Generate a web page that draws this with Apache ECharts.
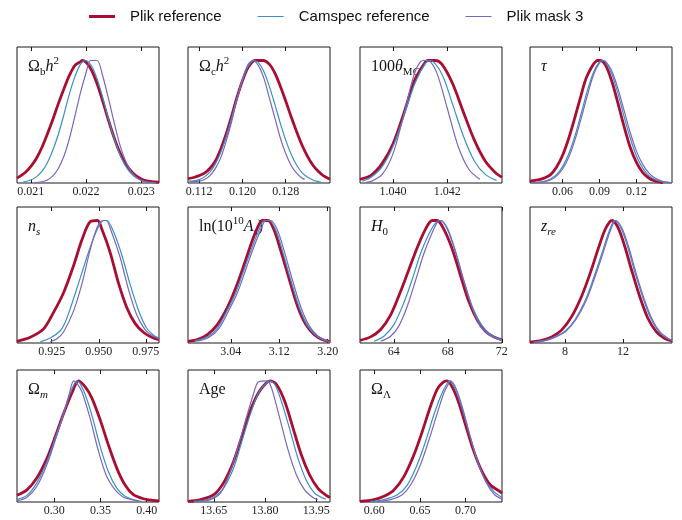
<!DOCTYPE html>
<html>
<head>
<meta charset="utf-8">
<script src="https://cdn.jsdelivr.net/npm/echarts@6/dist/echarts.min.js"></script>
<style>
  html, body { margin: 0; padding: 0; background: #fff; }
  #chart { width: 682px; height: 520px; }
</style>
</head>
<body>
<div id="chart"></div>
<script>
// ---- Marginalised 1D posteriors (normalised to peak = 1) ----

// Omega_b h^2
const ombh2Range = [0.02075, 0.02332];
const ombh2Ticks = ['0.021', '0.022', '0.023'];
const ombh2Plik = [[0.02075,0.04],[0.0209,0.086],[0.0210,0.135],[0.0211,0.20],[0.0212,0.29],[0.0213,0.40],[0.0214,0.52],[0.0215,0.65],[0.0216,0.77],[0.0217,0.88],[0.0218,0.96],[0.0219,0.99],[0.02193,1.0],[0.0220,0.985],[0.0221,0.92],[0.0222,0.81],[0.0223,0.67],[0.0224,0.52],[0.0225,0.38],[0.0226,0.26],[0.0227,0.17],[0.0228,0.105],[0.0229,0.06],[0.0230,0.033],[0.0231,0.017],[0.02332,0.006]];
const ombh2Camspec = [[0.02086,0.008],[0.0210,0.025],[0.0211,0.05],[0.0212,0.095],[0.0213,0.166],[0.0214,0.27],[0.0215,0.40],[0.0216,0.56],[0.0217,0.73],[0.0218,0.87],[0.0219,0.97],[0.02199,1.0],[0.0221,0.955],[0.0222,0.85],[0.0223,0.70],[0.0224,0.53],[0.0225,0.375],[0.0226,0.245],[0.0227,0.15],[0.0228,0.084],[0.0229,0.044],[0.0230,0.021],[0.0231,0.01],[0.02325,0.003]];
const ombh2Mask3 = [[0.02107,0.003],[0.0212,0.01],[0.0213,0.025],[0.0214,0.058],[0.0215,0.12],[0.0216,0.22],[0.0217,0.365],[0.0218,0.55],[0.0219,0.74],[0.0220,0.90],[0.02208,1.0],[0.0222,1.0],[0.0223,0.875],[0.0224,0.70],[0.0225,0.51],[0.0226,0.33],[0.0227,0.196],[0.0228,0.104],[0.0229,0.05],[0.0230,0.021],[0.0231,0.008],[0.02327,0.001]];

// Omega_c h^2
const omch2Range = [0.10994, 0.13618];
const omch2Ticks = ['0.112', '0.120', '0.128'];
const omch2Plik = [[0.10994,0.035],[0.111,0.045],[0.112,0.06],[0.113,0.08],[0.114,0.12],[0.115,0.18],[0.116,0.278],[0.117,0.40],[0.118,0.546],[0.119,0.70],[0.120,0.835],[0.121,0.94],[0.122,0.995],[0.1224,1.0],[0.1238,1.0],[0.125,0.968],[0.126,0.896],[0.127,0.79],[0.128,0.67],[0.129,0.54],[0.130,0.42],[0.131,0.31],[0.132,0.22],[0.133,0.147],[0.134,0.095],[0.135,0.058],[0.13618,0.031]];
const omch2Camspec = [[0.1101,0.015],[0.111,0.018],[0.112,0.028],[0.113,0.05],[0.114,0.09],[0.115,0.156],[0.116,0.25],[0.117,0.38],[0.118,0.53],[0.119,0.69],[0.120,0.84],[0.121,0.95],[0.1222,1.0],[0.123,0.98],[0.124,0.906],[0.125,0.785],[0.126,0.64],[0.127,0.487],[0.128,0.35],[0.129,0.234],[0.130,0.147],[0.131,0.085],[0.132,0.048],[0.133,0.025],[0.134,0.012],[0.1345,0.008]];
const omch2Mask3 = [[0.1103,0.01],[0.112,0.015],[0.113,0.029],[0.114,0.06],[0.115,0.119],[0.116,0.207],[0.117,0.342],[0.118,0.50],[0.119,0.687],[0.120,0.845],[0.121,0.964],[0.1219,1.0],[0.123,0.954],[0.124,0.85],[0.125,0.69],[0.126,0.53],[0.127,0.367],[0.128,0.24],[0.129,0.143],[0.130,0.08],[0.131,0.041],[0.1315,0.03]];

// 100 theta_MC
const thetaRange = [1.03878, 1.04402];
const thetaTicks = ['1.040', '1.042'];
const thetaPlik = [[1.03878,0.03],[1.0392,0.065],[1.0396,0.16],[1.0400,0.32],[1.0404,0.57],[1.0408,0.84],[1.0412,0.99],[1.0413,1.0],[1.04155,1.0],[1.0418,0.97],[1.0422,0.81],[1.0426,0.576],[1.0430,0.35],[1.0434,0.18],[1.0438,0.08],[1.04402,0.047]];
const thetaCamspec = [[1.03887,0.015],[1.0392,0.049],[1.0396,0.134],[1.0400,0.30],[1.0404,0.547],[1.0408,0.81],[1.0412,0.98],[1.04137,1.0],[1.0418,0.89],[1.0422,0.64],[1.0426,0.38],[1.0430,0.18],[1.0434,0.07],[1.04382,0.02]];
const thetaMask3 = [[1.0390,0.006],[1.0392,0.014],[1.0396,0.07],[1.0400,0.24],[1.0404,0.56],[1.0408,0.90],[1.0411,1.0],[1.04128,1.0],[1.0416,0.907],[1.0420,0.61],[1.0424,0.30],[1.0428,0.11],[1.0432,0.03]];

// tau
const tauRange = [0.0335, 0.1489];
const tauTicks = ['0.06', '0.09', '0.12'];
const tauPlik = [[0.0335,0.015],[0.04,0.025],[0.045,0.04],[0.05,0.066],[0.055,0.128],[0.06,0.226],[0.065,0.365],[0.07,0.535],[0.075,0.716],[0.08,0.876],[0.0885,1.0],[0.0905,1.0],[0.095,0.96],[0.10,0.83],[0.105,0.65],[0.11,0.46],[0.115,0.29],[0.12,0.168],[0.125,0.087],[0.13,0.041],[0.135,0.017],[0.14,0.006],[0.1416,0.003]];
const tauCamspec = [[0.035,0.004],[0.04,0.006],[0.045,0.013],[0.05,0.032],[0.055,0.068],[0.06,0.134],[0.065,0.238],[0.07,0.384],[0.075,0.563],[0.08,0.75],[0.085,0.90],[0.09,0.99],[0.0922,1.0],[0.095,0.985],[0.10,0.89],[0.105,0.73],[0.11,0.54],[0.115,0.365],[0.12,0.22],[0.125,0.124],[0.13,0.062],[0.135,0.029],[0.14,0.012],[0.145,0.0045],[0.1489,0.002]];
const tauMask3 = [[0.036,0.0015],[0.04,0.004],[0.045,0.01],[0.05,0.025],[0.055,0.056],[0.06,0.114],[0.065,0.21],[0.07,0.35],[0.075,0.524],[0.08,0.71],[0.085,0.88],[0.09,0.98],[0.093,1.0],[0.095,0.993],[0.10,0.914],[0.105,0.77],[0.11,0.59],[0.115,0.41],[0.12,0.26],[0.125,0.154],[0.13,0.082],[0.135,0.04],[0.14,0.018],[0.145,0.007],[0.1489,0.003]];

// n_s
const nsRange = [0.90654, 0.98198];
const nsTicks = ['0.925', '0.950', '0.975'];
const nsPlik = [[0.90654,0.014],[0.9136,0.047],[0.92067,0.115],[0.92597,0.25],[0.93127,0.41],[0.93657,0.63],[0.94099,0.84],[0.94541,0.99],[0.9493,1.0],[0.95159,0.93],[0.95601,0.74],[0.96042,0.49],[0.96484,0.29],[0.96926,0.16],[0.97367,0.088],[0.97809,0.047],[0.98198,0.027]];
const nsCamspec = [[0.9189,0.01],[0.9242,0.04],[0.92951,0.10],[0.93216,0.17],[0.93481,0.28],[0.94011,0.53],[0.94541,0.78],[0.94982,0.95],[0.9530,1.0],[0.95424,1.0],[0.95777,0.91],[0.96219,0.72],[0.96661,0.48],[0.97102,0.27],[0.97544,0.12],[0.97986,0.055],[0.98198,0.04]];
const nsMask3 = [[0.9242,0.01],[0.92774,0.035],[0.93127,0.09],[0.93657,0.26],[0.94099,0.48],[0.94541,0.76],[0.9493,0.95],[0.95212,1.0],[0.95389,1.0],[0.95689,0.90],[0.96131,0.70],[0.96572,0.44],[0.97014,0.23],[0.97456,0.11],[0.97898,0.055],[0.98198,0.036]];

// ln(10^10 A_s)
const logARange = [2.9694, 3.2039];
const logATicks = ['3.04', '3.12', '3.20'];
const logAPlik = [[2.9694,0.014],[2.9848,0.027],[3.0014,0.068],[3.0179,0.15],[3.0345,0.29],[3.0483,0.45],[3.0621,0.64],[3.0759,0.84],[3.0869,0.97],[3.0924,1.0],[3.1018,1.0],[3.1117,0.92],[3.1228,0.75],[3.1366,0.52],[3.1503,0.30],[3.1641,0.15],[3.1779,0.068],[3.1917,0.027],[3.2039,0.014]];
const logACamspec = [[2.9793,0.014],[3.0014,0.05],[3.0179,0.12],[3.0345,0.27],[3.0483,0.41],[3.0621,0.60],[3.0759,0.79],[3.0897,0.96],[3.0952,1.0],[3.1034,1.0],[3.1145,0.92],[3.1255,0.75],[3.1393,0.51],[3.1531,0.29],[3.1669,0.14],[3.1807,0.06],[3.1945,0.022],[3.2039,0.01]];
const logAMask3 = [[2.9848,0.014],[3.0041,0.047],[3.0207,0.12],[3.0372,0.27],[3.0510,0.41],[3.0648,0.60],[3.0786,0.79],[3.0924,0.96],[3.0979,1.0],[3.1062,1.0],[3.1172,0.92],[3.1283,0.75],[3.1421,0.51],[3.1559,0.29],[3.1697,0.14],[3.1834,0.06],[3.1972,0.022],[3.2039,0.01]];

// H_0
const h0Range = [61.5, 72.01];
const h0Ticks = ['64', '68', '72'];
const h0Plik = [[61.50,0.022],[62.29,0.05],[63.03,0.11],[63.77,0.23],[64.50,0.42],[65.12,0.60],[65.74,0.78],[66.35,0.93],[66.84,1.0],[67.21,1.0],[67.70,0.93],[68.32,0.77],[68.94,0.55],[69.55,0.34],[70.17,0.19],[70.78,0.096],[71.40,0.05],[72.01,0.027]];
const h0Camspec = [[62.54,0.014],[63.27,0.055],[64.01,0.15],[64.75,0.33],[65.37,0.52],[65.98,0.73],[66.60,0.89],[67.09,0.98],[67.41,1.0],[67.95,0.93],[68.57,0.74],[69.18,0.51],[69.80,0.30],[70.41,0.16],[71.03,0.08],[71.64,0.04],[72.01,0.027]];
const h0Mask3 = [[63.03,0.014],[63.77,0.055],[64.38,0.14],[65.00,0.30],[65.61,0.51],[66.23,0.73],[66.84,0.90],[67.26,0.99],[67.51,1.0],[68.00,0.93],[68.57,0.75],[69.18,0.51],[69.80,0.29],[70.41,0.14],[71.03,0.07],[71.64,0.033],[72.01,0.02]];

// z_re
const zreRange = [5.6, 15.36];
const zreTicks = ['8', '12'];
const zrePlik = [[5.60,0.008],[6.40,0.022],[7.09,0.05],[7.77,0.105],[8.46,0.215],[9.14,0.38],[9.71,0.56],[10.29,0.77],[10.74,0.92],[11.09,0.99],[11.25,1.0],[11.66,0.94],[12.11,0.79],[12.57,0.60],[13.14,0.38],[13.71,0.20],[14.29,0.09],[14.86,0.036],[15.36,0.017]];
const zreCamspec = [[5.83,0.008],[6.63,0.022],[7.31,0.05],[8.00,0.096],[8.69,0.19],[9.37,0.34],[9.94,0.52],[10.51,0.72],[10.97,0.89],[11.31,0.99],[11.43,1.0],[11.84,0.94],[12.30,0.79],[12.75,0.60],[13.33,0.38],[13.90,0.20],[14.47,0.09],[15.04,0.036],[15.36,0.022]];
const zreMask3 = [[5.90,0.008],[6.70,0.022],[7.38,0.05],[8.07,0.096],[8.75,0.19],[9.44,0.34],[10.01,0.52],[10.58,0.72],[11.04,0.89],[11.38,0.99],[11.50,1.0],[11.91,0.94],[12.37,0.79],[12.82,0.60],[13.39,0.38],[13.97,0.20],[14.54,0.09],[15.11,0.036],[15.36,0.024]];

// Omega_m
const omegamRange = [0.2597, 0.4133];
const omegamTicks = ['0.30', '0.35', '0.40'];
const omegamPlik = [[0.2597,0.055],[0.2705,0.10],[0.2813,0.20],[0.2921,0.36],[0.3011,0.54],[0.3101,0.73],[0.3191,0.90],[0.3263,1.0],[0.3335,0.95],[0.3406,0.86],[0.3496,0.68],[0.3586,0.47],[0.3676,0.28],[0.3766,0.14],[0.3856,0.06],[0.3964,0.027],[0.4072,0.014],[0.4133,0.01]];
const omegamCamspec = [[0.2597,0.02],[0.2705,0.055],[0.2813,0.16],[0.2921,0.335],[0.3011,0.53],[0.3101,0.73],[0.3173,0.90],[0.3227,0.99],[0.3245,1.0],[0.3317,0.92],[0.3406,0.72],[0.3496,0.46],[0.3586,0.25],[0.3676,0.115],[0.3766,0.047],[0.3856,0.019],[0.3946,0.005]];
const omegamMask3 = [[0.2597,0.01],[0.2705,0.04],[0.2813,0.13],[0.2921,0.31],[0.3011,0.51],[0.3101,0.73],[0.3165,0.90],[0.3209,1.0],[0.3245,0.98],[0.3299,0.91],[0.3388,0.69],[0.3478,0.42],[0.3568,0.21],[0.3658,0.10],[0.3748,0.04],[0.3838,0.02],[0.3910,0.01]];

// Age
const ageRange = [13.5745, 13.9906];
const ageTicks = ['13.65', '13.80', '13.95'];
const agePlik = [[13.5745,0.005],[13.6113,0.02],[13.65,0.06],[13.679,0.16],[13.7081,0.335],[13.7323,0.54],[13.7565,0.75],[13.7806,0.90],[13.8029,0.98],[13.8145,1.0],[13.8339,0.97],[13.8581,0.83],[13.8823,0.61],[13.9065,0.39],[13.9306,0.225],[13.9548,0.115],[13.979,0.055],[13.9906,0.038]];
const ageCamspec = [[13.5919,0.005],[13.621,0.014],[13.65,0.04],[13.679,0.115],[13.7081,0.28],[13.7323,0.50],[13.7565,0.72],[13.7806,0.90],[13.80,0.97],[13.8126,1.0],[13.829,0.97],[13.8484,0.83],[13.8726,0.60],[13.8968,0.36],[13.921,0.18],[13.9452,0.074],[13.9694,0.033],[13.979,0.025]];
const ageMask3 = [[13.6113,0.005],[13.6403,0.02],[13.6694,0.074],[13.6984,0.25],[13.7226,0.47],[13.7468,0.71],[13.7661,0.89],[13.7806,0.99],[13.8068,1.0],[13.8194,0.94],[13.8435,0.69],[13.8677,0.43],[13.8919,0.225],[13.9161,0.10],[13.9403,0.038],[13.9548,0.02]];

// Omega_Lambda
const omegalRange = [0.5845, 0.7398];
const omegalTicks = ['0.60', '0.65', '0.70'];
const omegalPlik = [[0.5845,0.005],[0.5998,0.02],[0.6107,0.047],[0.6216,0.10],[0.6325,0.21],[0.6435,0.39],[0.6525,0.58],[0.6616,0.79],[0.6689,0.93],[0.6755,0.99],[0.6798,1.0],[0.6853,0.95],[0.6925,0.82],[0.6998,0.64],[0.7089,0.42],[0.718,0.25],[0.7271,0.14],[0.7362,0.093],[0.7398,0.074]];
const omegalCamspec = [[0.5962,0.005],[0.6107,0.02],[0.6253,0.06],[0.6362,0.14],[0.6471,0.31],[0.6562,0.50],[0.6653,0.72],[0.6725,0.87],[0.6798,0.98],[0.6824,1.0],[0.6889,0.93],[0.6962,0.77],[0.7035,0.58],[0.7125,0.35],[0.7216,0.18],[0.7307,0.088],[0.7398,0.038]];
const omegalMask3 = [[0.6035,0.005],[0.618,0.02],[0.6307,0.06],[0.6398,0.14],[0.6507,0.31],[0.6598,0.51],[0.6689,0.73],[0.6762,0.90],[0.6816,0.98],[0.6835,1.0],[0.69,0.93],[0.6973,0.76],[0.7045,0.555],[0.7136,0.32],[0.7227,0.157],[0.7318,0.06],[0.7398,0.025]];

// Parameter labels (rich-text markup: r = roman, i = italic, sub/sup = scripts)
const paramLabels = [
  '{r|Ω}{sub|b}{i|h}{sup|2}',
  '{r|Ω}{sub|c}{i|h}{sup|2}',
  '{r|100}{i|θ}{sub|MC}',
  '{i|τ}',
  '{i|n}{subi|s}',
  '{r|ln(10}{sup|10}{i|A}{subi|s}{r|)}',
  '{i|H}{sub|0}',
  '{i|z}{subi|re}',
  '{r|Ω}{subi|m}',
  '{r|Age}',
  '{r|Ω}{sub|Λ}'
];

const seriesNames = ['Plik reference', 'Camspec reference', 'Plik mask 3'];

const panels = [
  { range: ombh2Range,  ticks: ombh2Ticks,  curves: [ombh2Plik,  ombh2Camspec,  ombh2Mask3] },
  { range: omch2Range,  ticks: omch2Ticks,  curves: [omch2Plik,  omch2Camspec,  omch2Mask3] },
  { range: thetaRange,  ticks: thetaTicks,  curves: [thetaPlik,  thetaCamspec,  thetaMask3] },
  { range: tauRange,    ticks: tauTicks,    curves: [tauPlik,    tauCamspec,    tauMask3] },
  { range: nsRange,     ticks: nsTicks,     curves: [nsPlik,     nsCamspec,     nsMask3] },
  { range: logARange,   ticks: logATicks,   curves: [logAPlik,   logACamspec,   logAMask3] },
  { range: h0Range,     ticks: h0Ticks,     curves: [h0Plik,     h0Camspec,     h0Mask3] },
  { range: zreRange,    ticks: zreTicks,    curves: [zrePlik,    zreCamspec,    zreMask3] },
  { range: omegamRange, ticks: omegamTicks, curves: [omegamPlik, omegamCamspec, omegamMask3] },
  { range: ageRange,    ticks: ageTicks,    curves: [agePlik,    ageCamspec,    ageMask3] },
  { range: omegalRange, ticks: omegalTicks, curves: [omegalPlik, omegalCamspec, omegalMask3] }
];

// ---- Layout & styling ----
const colLeft = [17, 188, 360, 530];
const rowTop = [47, 207, 370];
const rowHeight = [136, 136, 132];
const rowYMax = [1.11, 1.11, 1.09];
const panelWidth = 142;

const lineColors = ['#a90d31', '#3890c8', '#7c66bb'];
const lineWidths = [2.8, 1.2, 1.2];
const frameColor = '#1a1a1a';
const serif = 'Liberation Serif';

// Legend swatches: a horizontal bar inside a fixed 26x14 box (corner specks pin the box size)
const legendIcons = [
  'path://M0,0L0.01,0L0.01,0.01Z M0,5.6L26,5.6L26,8.4L0,8.4Z M26,14L25.99,14L25.99,13.99Z',
  'path://M0,0L0.01,0L0.01,0.01Z M0,6.4L26,6.4L26,7.6L0,7.6Z M26,14L25.99,14L25.99,13.99Z',
  'path://M0,0L0.01,0L0.01,0.01Z M0,6.4L26,6.4L26,7.6L0,7.6Z M26,14L25.99,14L25.99,13.99Z'
];

const richBase = { fontFamily: serif, fontWeight: 'normal', color: '#111' };
const richStyles = {
  r:    Object.assign({ fontSize: 16, lineHeight: 22 }, richBase),
  i:    Object.assign({ fontSize: 16, lineHeight: 22, fontStyle: 'italic' }, richBase),
  sub:  Object.assign({ fontSize: 11, lineHeight: 11, verticalAlign: 'bottom' }, richBase),
  subi: Object.assign({ fontSize: 11, lineHeight: 11, verticalAlign: 'bottom', fontStyle: 'italic' }, richBase),
  sup:  Object.assign({ fontSize: 11, lineHeight: 15, verticalAlign: 'top' }, richBase)
};

const grids = [], xAxes = [], yAxes = [], series = [], titles = [];

panels.forEach((p, i) => {
  const r = Math.floor(i / 4), c = i % 4;
  const tickValues = p.ticks.map(Number);
  const tickText = v => {
    const k = tickValues.findIndex(t => Math.abs(t - v) < 1e-9);
    return k >= 0 ? p.ticks[k] : '';
  };

  grids.push({
    left: colLeft[c], top: rowTop[r], width: panelWidth, height: rowHeight[r],
    show: true, borderColor: frameColor, borderWidth: 1, backgroundColor: 'transparent'
  });

  const axisBase = {
    gridIndex: i, type: 'value', min: p.range[0], max: p.range[1],
    axisLine: { show: false }, splitLine: { show: false },
    axisTick: { show: true, inside: true, length: 4, customValues: tickValues,
                lineStyle: { color: frameColor, width: 1 } }
  };
  xAxes.push(Object.assign({}, axisBase, {
    position: 'bottom',
    axisLabel: { show: true, customValues: tickValues, margin: 3, formatter: tickText,
                 fontFamily: serif, fontSize: 12, color: '#222' }
  }));
  xAxes.push(Object.assign({}, axisBase, {
    position: 'top',
    axisLabel: { show: false }
  }));
  yAxes.push({ gridIndex: i, type: 'value', min: 0, max: rowYMax[r], show: false });

  p.curves.forEach((data, k) => {
    series.push({
      name: seriesNames[k], type: 'line', data: data,
      xAxisIndex: 2 * i, yAxisIndex: i,
      symbol: 'none', smooth: 0.3, clip: true, silent: true, z: 3,
      lineStyle: { color: lineColors[k], width: lineWidths[k] },
      itemStyle: { color: lineColors[k] }
    });
  });

  titles.push({
    text: paramLabels[i], left: colLeft[c] + 11, top: rowTop[r] + 9,
    padding: 0, z: 1,
    textStyle: { fontWeight: 'normal', rich: richStyles }
  });
});

const chart = echarts.init(document.getElementById('chart'), null, { renderer: 'canvas' });
chart.setOption({
  animation: false,
  backgroundColor: '#fff',
  title: titles,
  legend: {
    data: seriesNames.map((name, k) => ({
      name: name, icon: legendIcons[k],
      itemStyle: { color: lineColors[k], borderWidth: 0 }
    })),
    left: 84, top: 4,
    itemWidth: 26, itemHeight: 14, itemGap: 36,
    textStyle: { fontFamily: 'Liberation Sans', fontSize: 15, color: '#111', padding: [0, 0, 0, 10] }
  },
  grid: grids,
  xAxis: xAxes,
  yAxis: yAxes,
  series: series
});
</script>
</body>
</html>
